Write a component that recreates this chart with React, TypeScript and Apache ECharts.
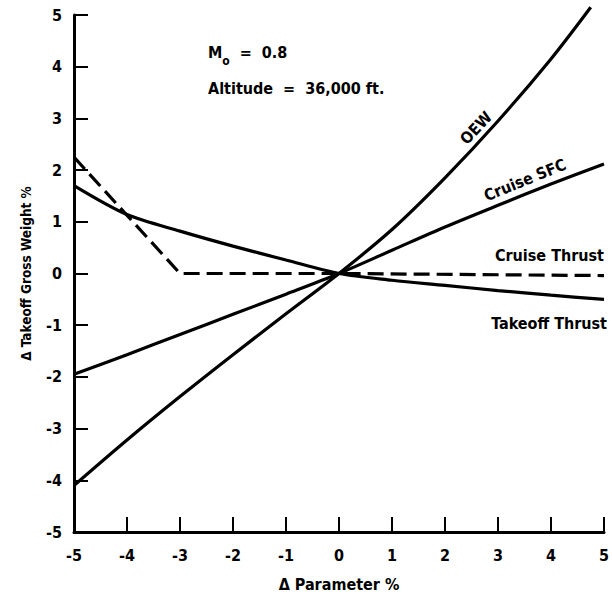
import React, { useEffect, useRef } from "react";
import * as echarts from "echarts";

const FONT = "'DejaVu Sans Condensed', 'Liberation Sans Narrow', sans-serif";

const xTicks = [-5, -4, -3, -2, -1, 0, 1, 2, 3, 4, 5];
const yTicks = [-5, -4, -3, -2, -1, 0, 1, 2, 3, 4, 5];

const oew: [number, number][] = [
  [-5, -4.1], [-4, -3.22], [-3, -2.38], [-2, -1.57], [-1, -0.78], [0, 0],
  [1, 0.85], [2, 1.85], [3, 2.95], [4, 4.15], [4.75, 5.15],
];
const cruiseSfc: [number, number][] = [
  [-5, -1.95], [-4, -1.57], [-3, -1.18], [-2, -0.79], [-1, -0.4], [0, 0],
  [1, 0.45], [2, 0.9], [3, 1.32], [4, 1.73], [5, 2.12],
];
const cruiseThrust: [number, number][] = [
  [-5, 2.25], [-3, 0], [0, 0], [5, -0.04],
];
const takeoffThrust: [number, number][] = [
  [-5, 1.7], [-4, 1.14], [-3, 0.82], [-2, 0.53], [-1, 0.26], [0, 0],
  [1, -0.13], [2, -0.23], [3, -0.33], [4, -0.42], [5, -0.5],
];

export default function App() {
  const ref = useRef<HTMLDivElement>(null);
  useEffect(() => {
    if (!ref.current) return;
    const chart = echarts.init(ref.current, undefined, { renderer: "svg" });
    const lineStyle = { color: "#000", width: 3.2 };
    const txt = (text: string, x: number, y: number, rotation = 0, extra: any = {}) => ({
      type: "text",
      x,
      y,
      rotation,
      style: {
        text,
        fill: "#000",
        font: `bold 16px ${FONT}`,
        align: "center",
        verticalAlign: "middle",
        ...extra,
      },
    });
    chart.setOption({
      animation: false,
      backgroundColor: "#fff",
      grid: { left: 74, right: 4, top: 15, bottom: 60, containLabel: false },
      xAxis: {
        type: "value",
        min: -5,
        max: 5,
        interval: 1,
        name: "\u0394 Parameter %",
        nameLocation: "middle",
        nameGap: 44,
        nameTextStyle: { color: "#000", fontFamily: FONT, fontWeight: "bold", fontSize: 16 },
        axisLine: { onZero: false, lineStyle: { color: "#000", width: 3 } },
        axisTick: { inside: true, length: 15, lineStyle: { color: "#000", width: 2 } },
        axisLabel: {
          color: "#000",
          fontFamily: FONT,
          fontWeight: "bold",
          fontSize: 16,
          margin: 15,
          formatter: (v: number) => (xTicks.includes(v) ? String(v) : ""),
        },
        splitLine: { show: false },
      },
      yAxis: {
        type: "value",
        min: -5,
        max: 5,
        interval: 1,
        name: "\u0394 Takeoff Gross Weight %",
        nameLocation: "middle",
        nameGap: 41,
        nameRotate: 90,
        nameTextStyle: { color: "#000", fontFamily: FONT, fontWeight: "bold", fontSize: 13.5 },
        axisLine: { onZero: false, lineStyle: { color: "#000", width: 3 } },
        axisTick: { inside: true, length: 14, lineStyle: { color: "#000", width: 2 } },
        axisLabel: {
          color: "#000",
          fontFamily: FONT,
          fontWeight: "bold",
          fontSize: 16,
          margin: 12,
          formatter: (v: number) => (yTicks.includes(v) ? String(v) : ""),
        },
        splitLine: { show: false },
      },
      series: [
        { name: "OEW", type: "line", data: oew, smooth: 0.3, showSymbol: false, clip: false, lineStyle },
        { name: "Cruise SFC", type: "line", data: cruiseSfc, smooth: 0.3, showSymbol: false, lineStyle },
        {
          name: "Cruise Thrust",
          type: "line",
          data: cruiseThrust,
          showSymbol: false,
          lineStyle: { color: "#000", width: 3.2, type: [16, 7] },
        },
        { name: "Takeoff Thrust", type: "line", data: takeoffThrust, smooth: 0.3, showSymbol: false, lineStyle },
      ],
      graphic: [
        {
          type: "text",
          left: 208,
          top: 44,
          style: {
            rich: {
              m: { font: `bold 16px ${FONT}`, fill: "#000" },
              s: { font: `bold 12px ${FONT}`, fill: "#000", verticalAlign: "bottom", padding: [0, 0, -7, 0] },
            },
            text: "{m|M}{s|o}{m|  =  0.8}",
          },
        },
        {
          type: "text",
          left: 208,
          top: 80,
          style: { text: "Altitude  =  36,000 ft.", fill: "#000", font: `bold 16px ${FONT}` },
        },
        txt("OEW", 476, 128, (47 * Math.PI) / 180),
        txt("Cruise SFC", 525, 180, (22 * Math.PI) / 180),
        txt("Cruise Thrust", 604, 255, 0, { align: "right" }),
        txt("Takeoff Thrust", 607, 323, 0, { align: "right" }),
      ],
    });
    return () => chart.dispose();
  }, []);
  return <div ref={ref} style={{ width: 612, height: 597, position: "absolute", left: 0, top: 0 }} />;
}
